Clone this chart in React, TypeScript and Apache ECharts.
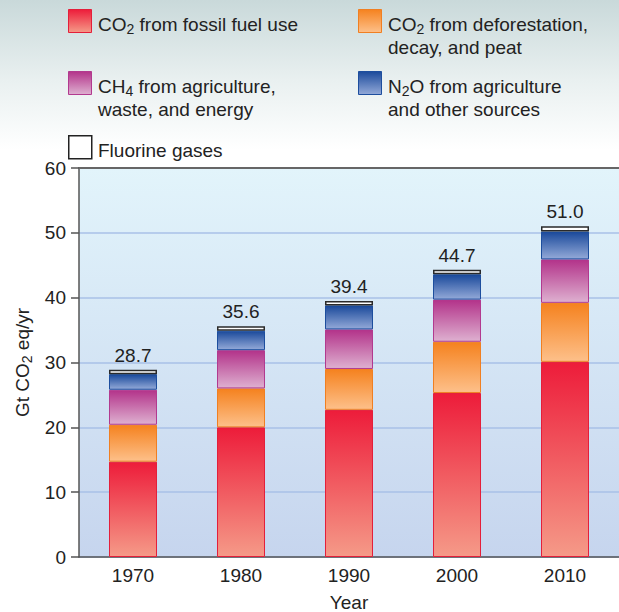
import React, { useEffect, useRef } from "react";
import * as echarts from "echarts";

const years = ["1970", "1980", "1990", "2000", "2010"];
const co2Fossil = [14.7, 20.0, 22.7, 25.3, 30.1];
const co2Forest = [5.7, 6.0, 6.3, 7.9, 9.1];
const ch4Agri = [5.4, 5.9, 6.1, 6.5, 6.7];
const n2oAgri = [2.4, 3.0, 3.7, 3.9, 4.3];
const fluorine = [0.7, 0.7, 0.7, 0.7, 0.8];
const totals = [28.7, 35.6, 39.4, 44.7, 51.0];

const FONT = "'Liberation Sans', Arial, Helvetica, sans-serif";
const TXT = "#222222";
const FS = 19;

const grad = (top: string, bottom: string) =>
  new echarts.graphic.LinearGradient(0, 0, 0, 1, [
    { offset: 0, color: top },
    { offset: 1, color: bottom },
  ]);

const palette = [
  { name: "CO2 fossil", top: "#ed1c3a", bottom: "#f59a88", border: "#e41f3a" },
  { name: "CO2 forest", top: "#f5821f", bottom: "#fdc08a", border: "#f07f22" },
  { name: "CH4", top: "#b3338a", bottom: "#deb0d0", border: "#b23a8f" },
  { name: "N2O", top: "#1b4a9b", bottom: "#93a9d8", border: "#1d4e9e" },
];

const rich = {
  a: { fontSize: FS, lineHeight: 23, fontFamily: FONT, fill: TXT, color: TXT },
  s: { fontSize: 14, lineHeight: 8, verticalAlign: "bottom", fontFamily: FONT, fill: TXT, color: TXT },
};

export default function App() {
  const ref = useRef<HTMLDivElement>(null);
  useEffect(() => {
    if (!ref.current) return;
    const chart = echarts.init(ref.current, undefined, { renderer: "svg" });
    const seriesData = [co2Fossil, co2Forest, ch4Agri, n2oAgri];
    const series: any[] = seriesData.map((d, i) => ({
      type: "bar",
      name: palette[i].name,
      stack: "total",
      barWidth: 48,
      data: d,
      itemStyle: {
        color: grad(palette[i].top, palette[i].bottom),
        borderColor: palette[i].border,
        borderWidth: 1,
      },
    }));
    series.push({
      type: "bar",
      name: "Fluorine",
      stack: "total",
      barWidth: 48,
      data: fluorine,
      itemStyle: { color: "#ffffff", borderColor: "#2a2a2a", borderWidth: 1.5 },
      label: {
        show: true,
        position: "top",
        distance: 5,
        fontSize: FS,
        fontFamily: FONT,
        color: TXT,
        formatter: (p: any) => totals[p.dataIndex].toFixed(1),
      },
    });

    const legendItems = [
      { x: 68, y: 9, i: 0, text: "{a|CO}{s|2}{a| from fossil fuel use}" },
      { x: 358, y: 9, i: 1, text: "{a|CO}{s|2}{a| from deforestation,}\n{a|decay, and peat}" },
      { x: 68, y: 71, i: 2, text: "{a|CH}{s|4}{a| from agriculture,}\n{a|waste, and energy}" },
      { x: 358, y: 71, i: 3, text: "{a|N}{s|2}{a|O from agriculture}\n{a|and other sources}" },
      { x: 68, y: 135, i: -1, text: "{a|Fluorine gases}" },
    ];
    const graphics: any[] = [];
    legendItems.forEach((it) => {
      const p = it.i >= 0 ? palette[it.i] : null;
      graphics.push({
        type: "rect",
        left: it.x,
        top: it.y,
        shape: { width: 23, height: 23 },
        style: p
          ? { fill: grad(p.top, p.bottom), stroke: p.border, lineWidth: 1 }
          : { fill: "#ffffff", stroke: "#222222", lineWidth: 1.5 },
      });
      graphics.push({
        type: "text",
        left: it.x + 30,
        top: it.y + 6,
        style: { text: it.text, rich, fontFamily: FONT, fill: TXT },
      });
    });

    chart.setOption({
      animation: false,
      backgroundColor: "transparent",
      grid: {
        left: 79,
        right: 0,
        top: 168,
        bottom: 55,
        containLabel: false,
        outerBoundsMode: "none",
        show: true,
        borderWidth: 0,
        backgroundColor: grad("#e2f4fb", "#c6d5ee"),
      },
      xAxis: [
        {
          type: "category",
          data: years,
          name: "Year",
          nameLocation: "middle",
          nameGap: 36,
          nameTextStyle: { fontSize: FS, fontFamily: FONT, color: TXT },
          axisLine: { lineStyle: { color: "#555555", width: 1.5 } },
          axisTick: { show: false },
          axisLabel: { fontSize: FS, fontFamily: FONT, color: TXT, margin: 9 },
        },
        {
          type: "category",
          data: years,
          position: "top",
          axisLine: { lineStyle: { color: "#666666", width: 2 } },
          axisTick: { show: false },
          axisLabel: { show: false },
        },
      ],
      yAxis: {
        type: "value",
        min: 0,
        max: 60,
        interval: 10,
        name: "{a|Gt CO}{s|2}{a| eq/yr}",
        nameLocation: "middle",
        nameGap: 45,
        nameTextStyle: { rich },
        axisLine: { show: true, lineStyle: { color: "#555555", width: 1.5 } },
        axisTick: { show: true, length: 8, lineStyle: { color: "#555555", width: 1.5 } },
        axisLabel: { fontSize: FS, fontFamily: FONT, color: TXT, margin: 13 },
        splitLine: { lineStyle: { color: "#a8c1e7", width: 1.5 } },
      },
      series,
      graphic: graphics,
    });
    return () => chart.dispose();
  }, []);
  return (
    <div
      ref={ref}
      style={{
        position: "fixed",
        left: 0,
        top: 0,
        width: 619,
        height: 612,
        background: "linear-gradient(to bottom, #c9d9da 0px, #e9f0f0 80px, #ffffff 150px)",
      }}
    />
  );
}
